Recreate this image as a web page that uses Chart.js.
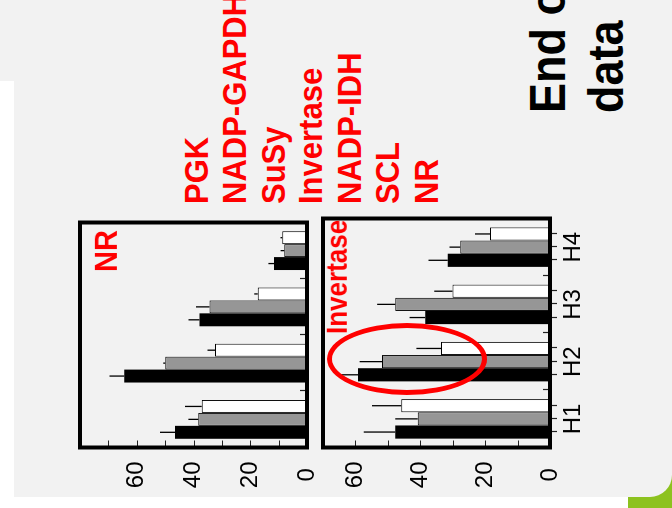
<!DOCTYPE html>
<html>
<head>
<meta charset="utf-8">
<script src="https://cdn.jsdelivr.net/npm/chart.js@4.4.0/dist/chart.umd.min.js"></script>
<style>
html, body { margin: 0; padding: 0; width: 672px; height: 508px; overflow: hidden; background: #fff; }
body { font-family: "Liberation Sans", Arial, sans-serif; }
/* the slide is laid out upright (508 x 672) and then turned a quarter to the left */
#slide { position: absolute; left: 0; top: 0; width: 508px; height: 672px; transform-origin: 0 0; transform: translate(0, 508px) rotate(-90deg); }
.green { position: absolute; left: 0; top: 628px; width: 40px; height: 44px; background: #8dc21f; }
.panel { position: absolute; left: 11px; top: 0; width: 497px; height: 672px; background: #f2f2f2; border-bottom-left-radius: 22px; }
.strip { position: absolute; left: 11px; top: 0; width: 416px; height: 14px; background: #fff; }
.txt { position: absolute; white-space: nowrap; font-weight: bold; transform-origin: 0 0; }
.enzymes { left: 304px; top: 178px; font-size: 31px; line-height: 34.8px; color: #ff0000; transform: scaleY(1.1); }
.title { left: 395px; top: 519px; font-size: 45px; line-height: 51.8px; color: #000; transform: scaleY(1.12); }
.nrlab { left: 236px; top: 91px; font-size: 29px; line-height: 29px; color: #ff0000; transform: scaleY(1.06); z-index: 3; }
.invlab { left: 174px; top: 323px; font-size: 26px; line-height: 26px; color: #ff0000; transform: scaleY(1.1); z-index: 3; }
.ring { position: absolute; left: 113px; top: 327px; width: 72px; height: 160px; box-sizing: border-box; border: 5px solid #ff0000; border-radius: 50%; z-index: 4; }
canvas { position: absolute; left: 0; }
#nrChart { top: 70px; z-index: 2; }
#invChart { top: 300px; z-index: 2; }
</style>
</head>
<body>
<div id="slide">
  <div class="green"></div>
  <div class="panel"></div>
  <div class="strip"></div>
  <div class="txt enzymes">PGK<br>NADP-GAPDH<br>SuSy<br>Invertase<br>NADP-IDH<br>SCL<br>NR</div>
  <div class="txt title">End of<br>data</div>
  <canvas id="nrChart" width="300" height="260"></canvas>
  <canvas id="invChart" width="300" height="300"></canvas>
  <div class="txt nrlab">NR</div>
  <div class="txt invlab">Invertase</div>
  <div class="ring"></div>
</div>
<script>
// categories
const groups = ['H1', 'H2', 'H3', 'H4'];

// NR panel (black, grey, white bars) and their error bars
const nrBlack = [46.5, 64.4, 37.9, 11.6];
const nrGrey = [38.3, 50.0, 34.4, 8.0];
const nrWhite = [37.1, 32.4, 17.4, 8.7];
const nrBlackErr = [5.3, 5.2, 3.9, 2.0];
const nrGreyErr = [3.5, 0.7, 4.7, 1.3];
const nrWhiteErr = [5.9, 2.7, 1.2, 0.6];

// Invertase panel
const invBlack = [47.7, 59.2, 38.5, 31.5];
const invGrey = [40.8, 51.8, 47.7, 27.7];
const invWhite = [45.9, 33.6, 30.1, 18.5];
const invBlackErr = [9.7, 5.4, 4.8, 6.0];
const invGreyErr = [6.9, 6.9, 5.6, 3.3];
const invWhiteErr = [9.0, 7.6, 5.6, 4.6];

// value axis: labelled ticks and small tick marks
const yTickLabels = [0, 20, 40, 60];
const nrMax = 80;
const invMax = 70;
const minorStep = 10;

// draws error bars, inner tick marks and the black frame
const decorations = {
    id: 'decorations',
    afterDatasetsDraw(chart) {
        const ctx = chart.ctx;
        const y = chart.scales.y;
        ctx.save();
        ctx.strokeStyle = '#000';
        ctx.lineWidth = 1.3;
        chart.data.datasets.forEach((ds, i) => {
            chart.getDatasetMeta(i).data.forEach((bar, j) => {
                const top = y.getPixelForValue(ds.data[j] + ds.errors[j]);
                ctx.beginPath();
                ctx.moveTo(bar.x, bar.y);
                ctx.lineTo(bar.x, top);
                ctx.stroke();
            });
        });
        ctx.restore();
    },
    afterDraw(chart) {
        const ctx = chart.ctx;
        const area = chart.chartArea;
        const x = chart.scales.x;
        const y = chart.scales.y;
        ctx.save();
        ctx.strokeStyle = '#222';
        ctx.lineWidth = 1.2;
        ctx.beginPath();
        for (let v = minorStep; v < y.max; v += minorStep) {
            const py = Math.round(y.getPixelForValue(v)) + 0.5;
            ctx.moveTo(area.left, py);
            ctx.lineTo(area.left + 7, py);
        }
        for (let i = 1; i < groups.length; i++) {
            const px = Math.round((x.getPixelForValue(i - 1) + x.getPixelForValue(i)) / 2) + 0.5;
            ctx.moveTo(px, area.bottom);
            ctx.lineTo(px, area.bottom - 7);
        }
        if (chart.options.plugins.decorations.outerTicks) {
            chart.data.datasets.forEach((ds, i) => {
                chart.getDatasetMeta(i).data.forEach(bar => {
                    const px = Math.round(bar.x) + 0.5;
                    ctx.moveTo(px, area.bottom);
                    ctx.lineTo(px, area.bottom + 7);
                });
            });
        }
        ctx.stroke();
        ctx.strokeStyle = '#000';
        ctx.lineWidth = 4;
        ctx.strokeRect(area.left, area.top, area.right - area.left, area.bottom - area.top);
        ctx.restore();
    }
};

function makeChart(id, black, grey, white, errs, max, opts) {
    const ctx = document.getElementById(id).getContext('2d');
    return new Chart(ctx, {
        type: 'bar',
        data: {
            labels: groups,
            datasets: [
                { data: black, errors: errs[0], backgroundColor: '#000', borderWidth: 0 },
                { data: grey, errors: errs[1], backgroundColor: '#969696', borderColor: '#000', borderWidth: 1 },
                { data: white, errors: errs[2], backgroundColor: '#fff', borderColor: '#000', borderWidth: 1 }
            ]
        },
        options: {
            responsive: false,
            animation: false,
            categoryPercentage: 0.69,
            barPercentage: 1.0,
            layout: { padding: opts.padding },
            plugins: {
                legend: { display: false },
                tooltip: { enabled: false },
                decorations: { outerTicks: opts.outerTicks }
            },
            scales: {
                x: {
                    display: opts.showGroups,
                    grid: { display: false },
                    border: { display: false },
                    ticks: { color: '#000', padding: 1, font: { family: 'Liberation Sans', size: 24 } },
                    afterFit: s => {
                        s.height = opts.showGroups ? 50 : 0;
                        s.paddingLeft = 0;
                        s.paddingRight = 0;
                    }
                },
                y: {
                    min: 0,
                    max: max,
                    grid: { display: false, drawTicks: false },
                    border: { display: false },
                    afterBuildTicks: s => { s.ticks = yTickLabels.map(v => ({ value: v })); },
                    afterFit: s => {
                        s.width = 60.5;
                        s.paddingTop = 0;
                        s.paddingBottom = 0;
                    },
                    ticks: {
                        color: '#000',
                        padding: 14,
                        crossAlign: 'center',
                        font: { family: 'Liberation Sans', size: 24 }
                    }
                }
            }
        },
        plugins: [decorations]
    });
}

document.addEventListener('DOMContentLoaded', function() {
    makeChart('nrChart', nrBlack, nrGrey, nrWhite, [nrBlackErr, nrGreyErr, nrWhiteErr], nrMax,
        { padding: { top: 10, right: 14.5, bottom: 23, left: 0 }, showGroups: false, outerTicks: false });
    makeChart('invChart', invBlack, invGrey, invWhite, [invBlackErr, invGreyErr, invWhiteErr], invMax,
        { padding: { top: 23, right: 10.5, bottom: 0, left: 0 }, showGroups: true, outerTicks: true });
});
</script>
</body>
</html>
